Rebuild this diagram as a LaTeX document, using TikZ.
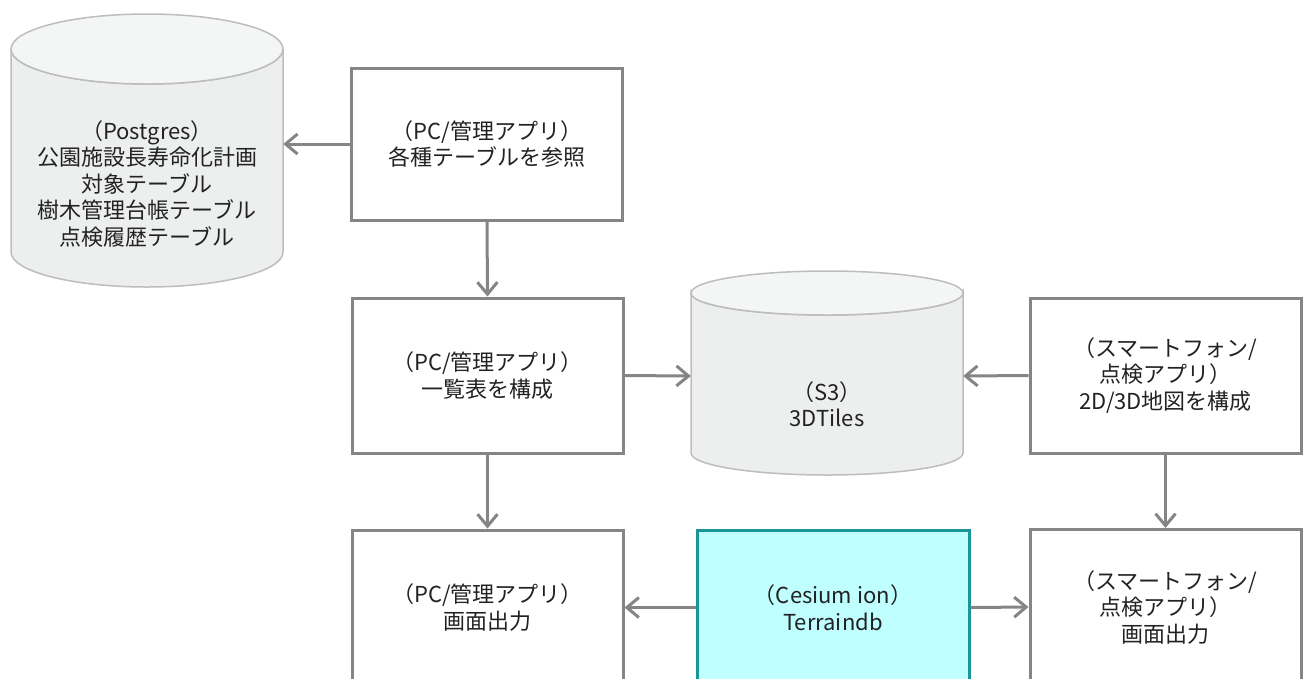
\documentclass[tikz,border=0pt]{standalone}
\usepackage{fontspec}
\setmainfont{Noto Sans CJK JP}
\usetikzlibrary{arrows.meta}
\definecolor{linegray}{HTML}{858585}
\definecolor{cylline}{HTML}{BDBDBD}
\definecolor{cylbody}{HTML}{EDEEEE}
\definecolor{cyltop}{HTML}{F4F5F5}
\definecolor{txt}{HTML}{222222}
\definecolor{cyanfill}{HTML}{BFFFFF}
\definecolor{tealline}{HTML}{1A9696}
\tikzset{
  boxst/.style={draw=linegray, line width=3pt, fill=white, minimum width=271pt, minimum height=155pt, inner sep=0pt, align=center, text=txt},
  cyanbox/.style={boxst, draw=tealline, fill=cyanfill},
  ghost/.style={draw=none, inner sep=0pt},
  lbl/.style={align=center, text=txt, inner sep=0pt},
  conn/.style={draw=linegray, line width=3pt, -{Straight Barb[length=12pt,width=20pt]}},
  cylbody/.style={fill=cylbody, draw=cylline, line width=1.5pt},
  cyltop/.style={fill=cyltop, draw=cylline, line width=1.5pt}
}
\begin{document}
\begin{tikzpicture}[x=1pt,y=-1pt, font=\fontsize{22pt}{26.5pt}\selectfont]
\useasboundingbox (0,0) rectangle (1305,678);
\clip (0,0) rectangle (1305,678);
% Postgres cylinder
\path[cylbody] (11,49) -- (11,252) arc[start angle=180,end angle=0,x radius=136,y radius=35] -- (283,49) arc[start angle=0,end angle=180,x radius=136,y radius=35] -- cycle;
\path[cyltop] (147,49) ellipse[x radius=136,y radius=35];
\node[ghost, minimum width=272pt, minimum height=273pt] (pg) at (147,150.5) {};
\node[lbl] (pgt) at (147,184) {（Postgres）\\公園施設長寿命化計画\\対象テーブル\\樹木管理台帳テーブル\\点検履歴テーブル};
% S3 cylinder
\path[cylbody] (691,293) -- (691,453) arc[start angle=180,end angle=0,x radius=136,y radius=22] -- (963,293) arc[start angle=0,end angle=180,x radius=136,y radius=22] -- cycle;
\path[cyltop] (827,293) ellipse[x radius=136,y radius=22];
\node[ghost, minimum width=272pt, minimum height=190pt] (s3) at (827,376) {};
\node[lbl] (s3t) at (827,404) {（S3）\\3DTiles};
% boxes
\node[boxst, minimum height=152pt] (A) at (487,144) {（PC/管理アプリ）\\各種テーブルを参照};
\node[boxst] (B) at (487.5,375.5) {（PC/管理アプリ）\\一覧表を構成};
\node[boxst] (C) at (1165.5,375.5) {（スマートフォン/\\点検アプリ）\\2D/3D地図を構成};
\node[boxst] (D) at (487.5,607.5) {（PC/管理アプリ）\\画面出力};
\node[cyanbox, minimum width=272pt] (E) at (833,607.5) {（Cesium ion）\\Terraindb};
\node[boxst] (F) at (1165.5,607) {（スマートフォン/\\点検アプリ）\\画面出力};
% connectors
\draw[conn] (A.west) -- (A.west -| pg.east);
\draw[conn] (A.south) -- (B.north);
\draw[conn] (B.east) -- (s3.west);
\draw[conn] (C.west) -- (s3.east);
\draw[conn] (B.south) -- (D.north);
\draw[conn] (C.south) -- (F.north);
\draw[conn] (E.west) -- (D.east);
\draw[conn] (E.east) -- (F.west);
\end{tikzpicture}
\end{document}
